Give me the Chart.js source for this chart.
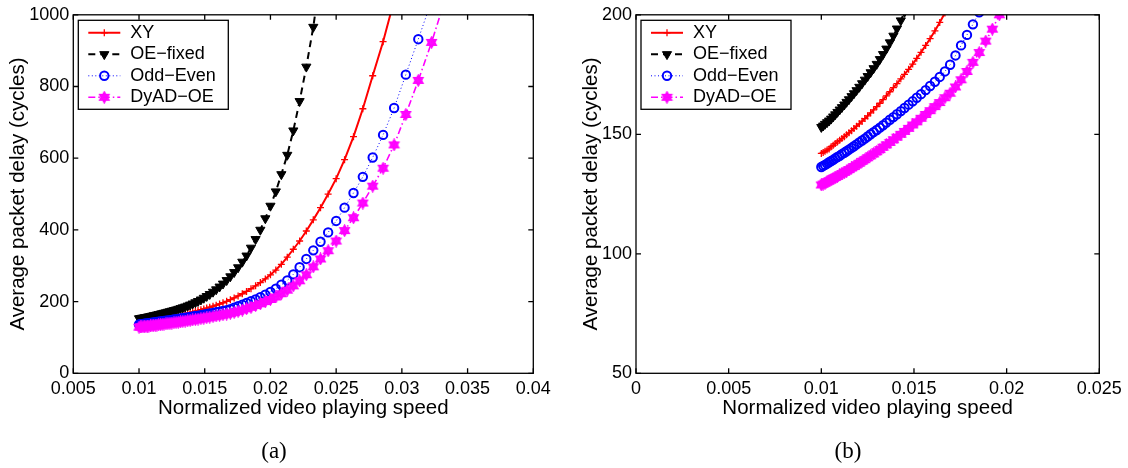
<!DOCTYPE html>
<html>
<head>
<meta charset="utf-8">
<script src="https://cdn.jsdelivr.net/npm/chart.js"></script>
<style>
  body { margin: 0; background: #fff; width: 1128px; height: 468px; position: relative; overflow: hidden; }
  canvas { position: absolute; top: 0; }
  #chartA { left: 0; }
  #chartB { left: 560px; }
  .cap { position: absolute; font-family: "Liberation Serif", "DejaVu Serif", serif; font-size: 23px; transform: translate(-50%, -50%); }
</style>
</head>
<body>
<canvas id="chartA" width="560" height="468"></canvas>
<canvas id="chartB" width="568" height="468"></canvas>
<div class="cap" style="left:274px;top:451px">(a)</div>
<div class="cap" style="left:848px;top:451px">(b)</div>
<script>
// normalized video playing speed (x), shared by all series
const speed = [
  0.01000, 0.01010, 0.01020, 0.01031, 0.01042, 0.01053, 0.01064, 0.01075, 0.01087, 0.01099,
  0.01111, 0.01124, 0.01136, 0.01149, 0.01163, 0.01176, 0.01190, 0.01205, 0.01220, 0.01235,
  0.01250, 0.01266, 0.01282, 0.01299, 0.01316, 0.01333, 0.01351, 0.01370, 0.01389, 0.01408,
  0.01429, 0.01449, 0.01471, 0.01493, 0.01515, 0.01538, 0.01563, 0.01587, 0.01613, 0.01639,
  0.01667, 0.01695, 0.01724, 0.01754, 0.01786, 0.01818, 0.01852, 0.01887, 0.01923, 0.01961,
  0.02000, 0.02041, 0.02083, 0.02128, 0.02174, 0.02222, 0.02273, 0.02326, 0.02381, 0.02439,
  0.02500, 0.02564, 0.02632, 0.02703, 0.02778, 0.02857, 0.02941, 0.03030, 0.03125, 0.03226,
  0.03333
];

const seriesNames = ['XY', 'OE\u2212fixed', 'Odd\u2212Even', 'DyAD\u2212OE'];

// average packet delay (cycles)
const delayXY = [
  142.0, 142.4, 142.9, 143.4, 143.9, 144.8, 145.4, 146.1, 146.8, 147.5,
  148.2, 149.0, 149.8, 150.6, 151.5, 152.4, 153.4, 154.4, 155.5, 156.6,
  157.7, 159.0, 160.2, 161.6, 163.0, 164.5, 166.1, 167.8, 169.5, 171.2,
  173.2, 175.1, 177.2, 179.4, 181.8, 184.3, 187.2, 190.0, 193.3, 196.8,
  200.8, 205.3, 210.3, 215.7, 221.9, 228.4, 235.9, 244.1, 253.1, 263.3,
  274.6, 288, 304, 324, 346, 369, 397, 428, 462, 500,
  543, 596, 660, 738, 830, 925, 1040
];
const delayOEfixed = [
  153.0, 153.6, 154.3, 155.0, 155.7, 156.5, 157.4, 158.3, 159.3, 160.3,
  161.3, 162.4, 163.5, 164.6, 165.9, 167.1, 168.4, 169.8, 171.3, 172.8,
  174.3, 175.9, 177.6, 179.4, 181.4, 183.5, 185.8, 188.4, 191.2, 194.2,
  197.6, 201.2, 205.5, 210.2, 215.2, 220.7, 227.1, 233.8, 241.5, 249.8,
  259.6, 270.1, 281.9, 295.3, 310.9, 328, 350, 374, 400, 432,
  467, 507, 555, 609, 677, 759, 855, 966, 1110
];
const delayOddEven = [
  136.3, 136.8, 137.2, 137.7, 138.3, 138.8, 139.3, 139.9, 140.5, 141.0,
  141.7, 142.3, 142.9, 143.6, 144.3, 145.0, 145.8, 146.6, 147.4, 148.2,
  149.1, 150.0, 150.9, 151.8, 152.8, 153.8, 154.9, 156.1, 157.2, 158.4,
  159.7, 161.0, 162.4, 163.8, 165.3, 166.8, 168.5, 170.2, 172.0, 174.0,
  176.3, 179.1, 183.0, 187.2, 191.6, 196.0, 201, 206, 212, 219,
  227, 236, 247, 259, 276, 296, 319, 343, 367, 393,
  425, 462, 503, 548, 602, 665, 740, 833, 932, 1040
];
const delayDyAD = [
  128.8, 129.2, 129.6, 130.1, 130.5, 131.0, 131.5, 131.9, 132.4, 133.0,
  133.5, 134.1, 134.6, 135.2, 135.9, 136.5, 137.2, 137.9, 138.7, 139.4,
  140.2, 141.0, 141.8, 142.7, 143.6, 144.6, 145.6, 146.6, 147.7, 148.8,
  150.0, 151.2, 152.5, 153.9, 155.2, 156.7, 158.3, 159.9, 161.6, 163.3,
  165.3, 167.2, 169.8, 172.8, 176.3, 180.1, 184.2, 189.0, 194.0, 200.0,
  206, 213, 222, 232, 244, 258, 275, 297, 319, 342,
  369, 398, 434, 475, 522, 572, 637, 722, 817, 923,
  1048
];

const xTicksA = { min: 0.005, max: 0.04, step: 0.005 };
const yTicksA = { min: 0, max: 1000, step: 200 };
const xTicksB = { min: 0, max: 0.025, step: 0.005 };
const yTicksB = { min: 50, max: 200, step: 50 };

Chart.defaults.color = '#000';
Chart.defaults.font.family = '"Liberation Sans", Arial, Helvetica, sans-serif';

// hexagram marker for DyAD-OE
const hexagram = document.createElement('canvas');
hexagram.width = 13; hexagram.height = 13;
(function () {
  const c = hexagram.getContext('2d');
  c.strokeStyle = '#ff00ff';
  c.fillStyle = 'rgba(255,0,255,0.8)';
  c.lineWidth = 1.5;
  [-90, 90].forEach(a0 => {
    c.beginPath();
    for (let k = 0; k < 3; k++) {
      const a = (a0 + k * 120) * Math.PI / 180;
      const px = 6.5 + 5.3 * Math.cos(a), py = 6.5 + 5.3 * Math.sin(a);
      k ? c.lineTo(px, py) : c.moveTo(px, py);
    }
    c.closePath();
    c.fill();
    c.stroke();
  });
})();

function pts(vals) {
  return vals.map((v, i) => ({ x: speed[i], y: v }));
}

function makeDatasets() {
  return [
    {
      label: seriesNames[0], data: pts(delayXY), order: 4,
      borderColor: '#ff0000', borderWidth: 2,
      pointStyle: 'cross', pointRadius: 3.5, pointBorderWidth: 1.3,
      pointBorderColor: '#ff0000', pointBackgroundColor: '#ff0000'
    },
    {
      label: seriesNames[1], data: pts(delayOEfixed), order: 3,
      borderColor: '#000000', borderWidth: 2, borderDash: [7, 5],
      pointStyle: 'triangle', pointRotation: 180, pointRadius: 5.3, pointBorderWidth: 1,
      pointBorderColor: '#000000', pointBackgroundColor: '#000000'
    },
    {
      label: seriesNames[2], data: pts(delayOddEven), order: 2,
      borderColor: '#0000ff', borderWidth: 1, borderDash: [1, 2.5],
      pointStyle: 'circle', pointRadius: 4.2, pointBorderWidth: 2,
      pointBorderColor: '#0000ff', pointBackgroundColor: 'rgba(0,0,0,0)'
    },
    {
      label: seriesNames[3], data: pts(delayDyAD), order: 1,
      borderColor: '#ff00ff', borderWidth: 1.6, borderDash: [7, 3, 1.5, 3],
      pointStyle: hexagram, pointRadius: 6, pointBorderWidth: 0,
      pointBorderColor: '#ff00ff', pointBackgroundColor: '#ff00ff'
    }
  ];
}

// matlab-like box, inward ticks and boxed legend
const boxAndLegend = {
  id: 'boxAndLegend',
  afterDatasetsDraw(chart) {
    const { ctx, chartArea: a, scales } = chart;
    ctx.save();
    ctx.strokeStyle = '#000';
    ctx.lineWidth = 1.3;
    ctx.beginPath();
    scales.x.ticks.forEach(t => {
      const px = scales.x.getPixelForValue(t.value);
      ctx.moveTo(px, a.bottom); ctx.lineTo(px, a.bottom - 5);
      ctx.moveTo(px, a.top); ctx.lineTo(px, a.top + 5);
    });
    scales.y.ticks.forEach(t => {
      const py = scales.y.getPixelForValue(t.value);
      ctx.moveTo(a.left, py); ctx.lineTo(a.left + 5, py);
      ctx.moveTo(a.right, py); ctx.lineTo(a.right - 5, py);
    });
    ctx.stroke();
    ctx.strokeRect(a.left, a.top, a.right - a.left, a.bottom - a.top);

    // legend
    const lx = a.left + 5, ly = a.top + 5.5;
    ctx.fillStyle = '#fff';
    ctx.fillRect(lx, ly, 150, 89);
    ctx.strokeRect(lx, ly, 150, 89);
    chart.data.datasets.forEach((ds, i) => {
      const y = a.top + 18 + i * 21.5;
      ctx.setLineDash(ds.borderDash || []);
      ctx.strokeStyle = ds.borderColor;
      ctx.lineWidth = ds.borderWidth;
      ctx.beginPath();
      ctx.moveTo(a.left + 15, y);
      ctx.lineTo(a.left + 47, y);
      ctx.stroke();
      ctx.setLineDash([]);
      ctx.strokeStyle = ds.pointBorderColor;
      ctx.fillStyle = ds.pointBackgroundColor;
      ctx.lineWidth = ds.pointBorderWidth;
      Chart.helpers.drawPoint(ctx, {
        pointStyle: ds.pointStyle, radius: ds.pointRadius,
        rotation: ds.pointRotation || 0, borderWidth: ds.pointBorderWidth
      }, a.left + 31, y);
      ctx.fillStyle = '#000';
      ctx.font = '18px "Liberation Sans", Arial, sans-serif';
      ctx.textBaseline = 'middle';
      ctx.textAlign = 'left';
      ctx.fillText(ds.label, a.left + 57, y);
    });
    ctx.restore();
  }
};

function fmt(v) {
  return String(+v.toFixed(3));
}

function makeChart(id, xt, yt, pad, yWidth, yTitlePad) {
  return new Chart(document.getElementById(id), {
    type: 'line',
    data: { datasets: makeDatasets() },
    options: {
      responsive: false,
      animation: false,
      events: [],
      parsing: false,
      layout: { padding: pad },
      plugins: { legend: { display: false }, tooltip: { enabled: false } },
      scales: {
        x: {
          type: 'linear', min: xt.min, max: xt.max,
          grid: { display: false, drawTicks: false },
          border: { display: false },
          ticks: { stepSize: xt.step, padding: 5, font: { size: 18 }, callback: fmt, maxRotation: 0, autoSkip: false },
          title: { display: true, text: 'Normalized video playing speed', font: { size: 20.5 }, padding: 0 },
          afterFit: s => { s.height = 47.5; }
        },
        y: {
          type: 'linear', min: yt.min, max: yt.max,
          grid: { display: false, drawTicks: false },
          border: { display: false },
          ticks: { stepSize: yt.step, padding: 4, font: { size: 18 }, callback: fmt },
          title: { display: true, text: 'Average packet delay (cycles)', font: { size: 20.5 }, padding: { top: yTitlePad, bottom: 0 } },
          afterFit: s => { s.width = yWidth; }
        }
      }
    },
    plugins: [boxAndLegend]
  });
}

makeChart('chartA', xTicksA, yTicksA, { left: 0, right: 26.7, top: 11.7, bottom: 47.2 }, 73.3, 6);
makeChart('chartB', xTicksB, yTicksB, { left: 0, right: 28.7, top: 7.3, bottom: 47.2 }, 76, 18.7);
</script>
</body>
</html>
